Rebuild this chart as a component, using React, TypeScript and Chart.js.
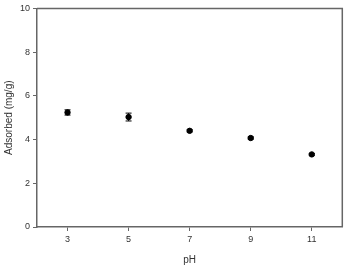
import React, { useEffect, useRef } from "react";
import { Chart, registerables } from "chart.js";

Chart.register(...registerables);

const phValues = [3, 5, 7, 9, 11];
const adsorbed = [5.24, 5.03, 4.4, 4.07, 3.32];
const errors = [0.12, 0.18, 0.05, 0.05, 0.04];
const xTicks = [3, 5, 7, 9, 11];

const axisColor = "#666";

const errorBarPlugin = {
  id: "errorBars",
  afterDatasetsDraw(chart: any) {
    const ctx = chart.ctx;
    const xs = chart.scales.x;
    const ys = chart.scales.y;
    ctx.save();
    ctx.strokeStyle = "#000";
    ctx.lineWidth = 1;
    phValues.forEach((p, i) => {
      const x = xs.getPixelForValue(p);
      const y1 = ys.getPixelForValue(adsorbed[i] - errors[i]);
      const y2 = ys.getPixelForValue(adsorbed[i] + errors[i]);
      ctx.beginPath();
      ctx.moveTo(x, y1);
      ctx.lineTo(x, y2);
      ctx.moveTo(x - 3, y1);
      ctx.lineTo(x + 3, y1);
      ctx.moveTo(x - 3, y2);
      ctx.lineTo(x + 3, y2);
      ctx.stroke();
    });
    ctx.restore();
  },
};

const framePlugin = {
  id: "frame",
  afterDraw(chart: any) {
    const { ctx, chartArea } = chart;
    ctx.save();
    ctx.strokeStyle = axisColor;
    ctx.lineWidth = 1.5;
    ctx.beginPath();
    ctx.moveTo(chartArea.left, chartArea.top);
    ctx.lineTo(chartArea.right, chartArea.top);
    ctx.lineTo(chartArea.right, chartArea.bottom);
    ctx.stroke();
    ctx.restore();
  },
};

export default function App() {
  const ref = useRef<HTMLCanvasElement>(null);
  useEffect(() => {
    if (!ref.current) return;
    const chart = new Chart(ref.current, {
      type: "scatter",
      data: {
        datasets: [
          {
            data: phValues.map((p, i) => ({ x: p, y: adsorbed[i] })),
            backgroundColor: "#000",
            borderColor: "#000",
            pointRadius: 2.7,
            pointHoverRadius: 2.7,
          },
        ],
      },
      options: {
        animation: false,
        responsive: false,
        layout: { padding: { top: 5, right: 3, left: 0, bottom: 0 } },
        plugins: { legend: { display: false }, tooltip: { enabled: false } },
        scales: {
          x: {
            type: "linear",
            min: 2,
            max: 12,
            afterBuildTicks: (scale: any) => {
              scale.ticks = xTicks.map((v) => ({ value: v }));
            },
            afterFit: (scale: any) => {
              scale.height = 39;
            },
            grid: { drawOnChartArea: false, drawTicks: true, tickLength: 4, color: axisColor },
            border: { display: true, color: axisColor, width: 1.5 },
            ticks: {
              color: "#333",
              font: { family: "Liberation Sans", size: 9 },
              padding: 3,
            },
            title: {
              display: true,
              text: "pH",
              color: "#333",
              font: { family: "Liberation Sans", size: 10 },
              padding: { top: 1, bottom: 0 },
            },
          },
          y: {
            min: 0,
            max: 10,
            ticks: {
              stepSize: 2,
              color: "#333",
              font: { family: "Liberation Sans", size: 9 },
              padding: 3,
            },
            afterFit: (scale: any) => {
              scale.width = 37;
            },
            grid: { drawOnChartArea: false, drawTicks: true, tickLength: 4, color: axisColor },
            border: { display: true, color: axisColor, width: 1.5 },
            title: {
              display: true,
              text: "Adsorbed (mg/g)",
              color: "#333",
              font: { family: "Liberation Sans", size: 10 },
              padding: { top: 3, bottom: 2 },
            },
          },
        },
      },
      plugins: [errorBarPlugin, framePlugin],
    } as any);
    return () => chart.destroy();
  }, []);
  return (
    <div style={{ position: "fixed", left: 0, top: 0, width: 346, height: 266, background: "#fff" }}>
      <canvas ref={ref} width={346} height={266} />
    </div>
  );
}
